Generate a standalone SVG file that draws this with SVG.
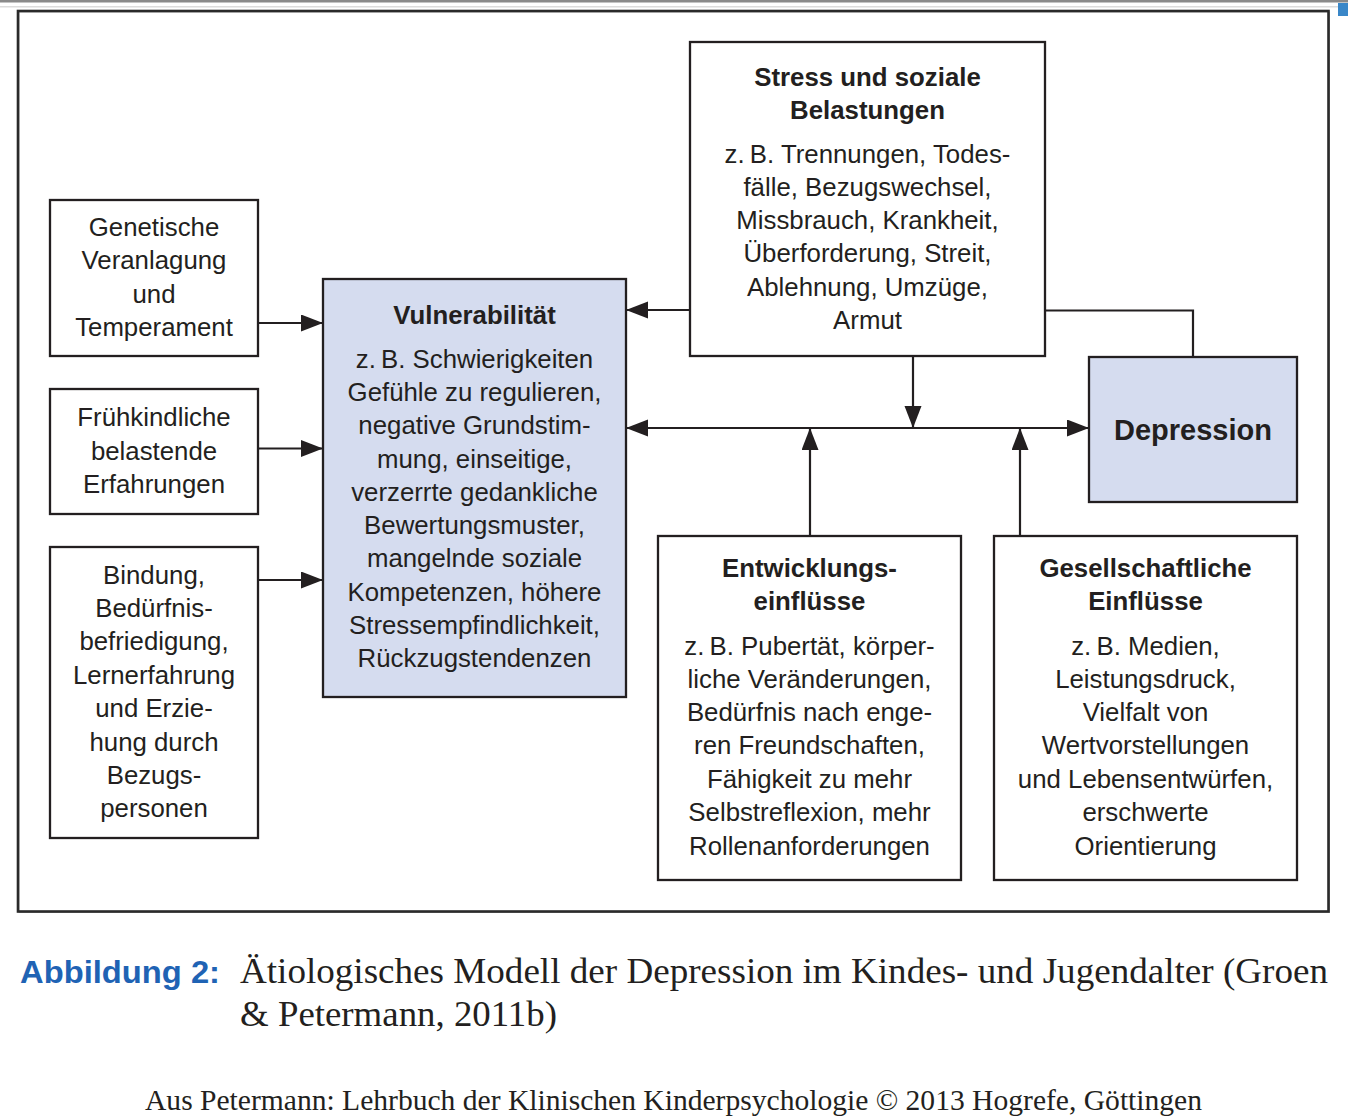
<svg xmlns="http://www.w3.org/2000/svg" width="1348" height="1120" viewBox="0 0 1348 1120">
<defs>
<marker id="ah" markerUnits="userSpaceOnUse" markerWidth="24" markerHeight="18" refX="22" refY="8.5" orient="auto-start-reverse" viewBox="0 0 24 18">
<path d="M0,0 L22,8.5 L0,17 Z" fill="#231f20"/>
</marker>
</defs>
<style>
.box{fill:#ffffff;stroke:#231f20;stroke-width:2.3}
.blue{fill:#d5dcef;stroke:#231f20;stroke-width:2.3}
.t{font-family:"Liberation Sans",Arial,sans-serif;font-size:25.8px;fill:#231f20;text-anchor:middle}
.b{font-weight:bold}
.con{fill:none;stroke:#231f20;stroke-width:2.2}
.arr{marker-end:url(#ah)}
.serif{font-family:"Liberation Serif","Times New Roman",serif;fill:#231f20}
</style>
<rect x="0" y="0" width="1348" height="1120" fill="#ffffff"/>
<rect x="0" y="0" width="1348" height="2.5" fill="#8a8a8a"/>
<rect x="0" y="6" width="1348" height="1.5" fill="#dcdcdc"/>
<rect x="1338" y="3" width="10" height="13" fill="#3a87c8"/>
<rect x="19" y="12" width="1310.5" height="900.5" fill="none" stroke="#b0b0b0" stroke-width="1"/>
<rect x="18" y="11" width="1310.5" height="900.5" fill="none" stroke="#2a2a2a" stroke-width="2.6"/>

<g id="connectors">
<path class="con arr" d="M258,323 H323"/>
<path class="con arr" d="M258,448.5 H323"/>
<path class="con arr" d="M258,580 H323"/>
<path class="con arr" d="M690,310 H626"/>
<path class="con arr" d="M913,356 V428"/>
<path class="con arr" d="M626,428 H1089" style="marker-start:url(#ah)"/>
<path class="con arr" d="M810,536 V428"/>
<path class="con arr" d="M1020,536 V428"/>
<path class="con" d="M1045,310.5 H1193 V357"/>
</g>

<g id="genetische">
<rect class="box" x="50" y="200" width="208" height="156"/>
<text class="t" x="154" y="236">Genetische</text>
<text class="t" x="154" y="269">Veranlagung</text>
<text class="t" x="154" y="303">und</text>
<text class="t" x="154" y="336">Temperament</text>
</g>

<g id="fruehkindliche">
<rect class="box" x="50" y="389" width="208" height="125"/>
<text class="t" x="154" y="426">Frühkindliche</text>
<text class="t" x="154" y="460">belastende</text>
<text class="t" x="154" y="493">Erfahrungen</text>
</g>

<g id="bindung">
<rect class="box" x="50" y="547" width="208" height="291"/>
<text class="t" x="154" y="584">Bindung,</text>
<text class="t" x="154" y="617">Bedürfnis-</text>
<text class="t" x="154" y="650">befriedigung,</text>
<text class="t" x="154" y="684">Lernerfahrung</text>
<text class="t" x="154" y="717">und Erzie-</text>
<text class="t" x="154" y="751">hung durch</text>
<text class="t" x="154" y="784">Bezugs-</text>
<text class="t" x="154" y="817">personen</text>
</g>

<g id="vulnerabilitaet">
<rect class="blue" x="323" y="279" width="303" height="418"/>
<text class="t b" x="474.5" y="324">Vulnerabilität</text>
<text class="t" x="474.5" y="368">z.&#8201;B. Schwierigkeiten</text>
<text class="t" x="474.5" y="401">Gefühle zu regulieren,</text>
<text class="t" x="474.5" y="434">negative Grundstim-</text>
<text class="t" x="474.5" y="468">mung, einseitige,</text>
<text class="t" x="474.5" y="501">verzerrte gedankliche</text>
<text class="t" x="474.5" y="534">Bewertungsmuster,</text>
<text class="t" x="474.5" y="567">mangelnde soziale</text>
<text class="t" x="474.5" y="601">Kompetenzen, höhere</text>
<text class="t" x="474.5" y="634">Stressempfindlichkeit,</text>
<text class="t" x="474.5" y="667">Rückzugstendenzen</text>
</g>

<g id="stress">
<rect class="box" x="690" y="42" width="355" height="314"/>
<text class="t b" x="867.5" y="86">Stress und soziale</text>
<text class="t b" x="867.5" y="119">Belastungen</text>
<text class="t" x="867.5" y="163">z.&#8201;B. Trennungen, Todes-</text>
<text class="t" x="867.5" y="196">fälle, Bezugswechsel,</text>
<text class="t" x="867.5" y="229">Missbrauch, Krankheit,</text>
<text class="t" x="867.5" y="262">Überforderung, Streit,</text>
<text class="t" x="867.5" y="296">Ablehnung, Umzüge,</text>
<text class="t" x="867.5" y="329">Armut</text>
</g>

<g id="depression">
<rect class="blue" x="1089" y="357" width="208" height="145"/>
<text class="t b" x="1193" y="440" style="font-size:29px">Depression</text>
</g>

<g id="entwicklung">
<rect class="box" x="658" y="536" width="303" height="344"/>
<text class="t b" x="809.5" y="577">Entwicklungs-</text>
<text class="t b" x="809.5" y="610">einflüsse</text>
<text class="t" x="809.5" y="655">z.&#8201;B. Pubertät, körper-</text>
<text class="t" x="809.5" y="688">liche Veränderungen,</text>
<text class="t" x="809.5" y="721">Bedürfnis nach enge-</text>
<text class="t" x="809.5" y="754">ren Freundschaften,</text>
<text class="t" x="809.5" y="788">Fähigkeit zu mehr</text>
<text class="t" x="809.5" y="821">Selbstreflexion, mehr</text>
<text class="t" x="809.5" y="855">Rollenanforderungen</text>
</g>

<g id="gesellschaft">
<rect class="box" x="994" y="536" width="303" height="344"/>
<text class="t b" x="1145.5" y="577">Gesellschaftliche</text>
<text class="t b" x="1145.5" y="610">Einflüsse</text>
<text class="t" x="1145.5" y="655">z.&#8201;B. Medien,</text>
<text class="t" x="1145.5" y="688">Leistungsdruck,</text>
<text class="t" x="1145.5" y="721">Vielfalt von</text>
<text class="t" x="1145.5" y="754">Wertvorstellungen</text>
<text class="t" x="1145.5" y="788">und Lebensentwürfen,</text>
<text class="t" x="1145.5" y="821">erschwerte</text>
<text class="t" x="1145.5" y="855">Orientierung</text>
</g>

<g id="caption">
<text x="20" y="983" style="font-family:'Liberation Sans',Arial,sans-serif;font-weight:bold;font-size:31px;fill:#1f63b4" textLength="200" lengthAdjust="spacingAndGlyphs">Abbildung 2:</text>
<text class="serif" x="240" y="983" style="font-size:35px" textLength="1088" lengthAdjust="spacingAndGlyphs">Ätiologisches Modell der Depression im Kindes- und Jugendalter (Groen</text>
<text class="serif" x="240" y="1026" style="font-size:35px" textLength="317" lengthAdjust="spacingAndGlyphs">&amp; Petermann, 2011b)</text>
<text class="serif" x="145" y="1110" style="font-size:29px" textLength="1057" lengthAdjust="spacingAndGlyphs">Aus Petermann: Lehrbuch der Klinischen Kinderpsychologie © 2013 Hogrefe, Göttingen</text>
</g>
</svg>
